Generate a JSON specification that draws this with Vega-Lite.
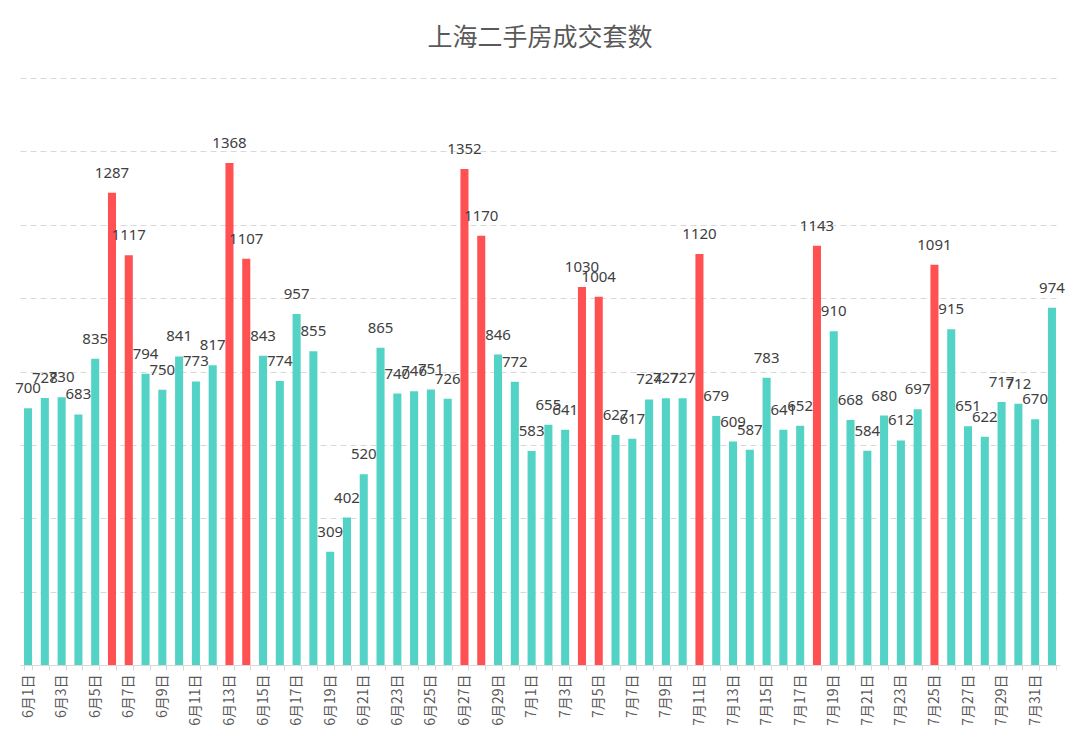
{
  "$schema": "https://vega.github.io/schema/vega-lite/v6.json",
  "width": 1040,
  "height": 587,
  "autosize": {"type": "none"},
  "padding": {"left": 20, "right": 20, "top": 78, "bottom": 77},
  "title": {
    "text": "上海二手房成交套数",
    "fontSize": 25,
    "fontWeight": "normal",
    "color": "#595959",
    "font": "Noto Sans CJK SC",
    "offset": 27,
    "anchor": "middle"
  },
  "data": {
    "values": [
      {"date": "6月1日", "count": 700}, {"date": "6月2日", "count": 728}, {"date": "6月3日", "count": 730},
      {"date": "6月4日", "count": 683}, {"date": "6月5日", "count": 835}, {"date": "6月6日", "count": 1287},
      {"date": "6月7日", "count": 1117}, {"date": "6月8日", "count": 794}, {"date": "6月9日", "count": 750},
      {"date": "6月10日", "count": 841}, {"date": "6月11日", "count": 773}, {"date": "6月12日", "count": 817},
      {"date": "6月13日", "count": 1368}, {"date": "6月14日", "count": 1107}, {"date": "6月15日", "count": 843},
      {"date": "6月16日", "count": 774}, {"date": "6月17日", "count": 957}, {"date": "6月18日", "count": 855},
      {"date": "6月19日", "count": 309}, {"date": "6月20日", "count": 402}, {"date": "6月21日", "count": 520},
      {"date": "6月22日", "count": 865}, {"date": "6月23日", "count": 740}, {"date": "6月24日", "count": 746},
      {"date": "6月25日", "count": 751}, {"date": "6月26日", "count": 726}, {"date": "6月27日", "count": 1352},
      {"date": "6月28日", "count": 1170}, {"date": "6月29日", "count": 846}, {"date": "6月30日", "count": 772},
      {"date": "7月1日", "count": 583}, {"date": "7月2日", "count": 655}, {"date": "7月3日", "count": 641},
      {"date": "7月4日", "count": 1030}, {"date": "7月5日", "count": 1004}, {"date": "7月6日", "count": 627},
      {"date": "7月7日", "count": 617}, {"date": "7月8日", "count": 724}, {"date": "7月9日", "count": 727},
      {"date": "7月10日", "count": 727}, {"date": "7月11日", "count": 1120}, {"date": "7月12日", "count": 679},
      {"date": "7月13日", "count": 609}, {"date": "7月14日", "count": 587}, {"date": "7月15日", "count": 783},
      {"date": "7月16日", "count": 641}, {"date": "7月17日", "count": 652}, {"date": "7月18日", "count": 1143},
      {"date": "7月19日", "count": 910}, {"date": "7月20日", "count": 668}, {"date": "7月21日", "count": 584},
      {"date": "7月22日", "count": 680}, {"date": "7月23日", "count": 612}, {"date": "7月24日", "count": 697},
      {"date": "7月25日", "count": 1091}, {"date": "7月26日", "count": 915}, {"date": "7月27日", "count": 651},
      {"date": "7月28日", "count": 622}, {"date": "7月29日", "count": 717}, {"date": "7月30日", "count": 712},
      {"date": "7月31日", "count": 670}, {"date": "8月1日", "count": 974}
    ]
  },
  "encoding": {
    "x": {
      "field": "date",
      "type": "nominal",
      "sort": null,
      "title": null,
      "scale": {"paddingInner": 0.52, "paddingOuter": 0.24},
      "axis": {
        "labelAngle": -90,
        "labelExpr": "test(/[13579]日$/, datum.value) && !test(/^8月/, datum.value) ? datum.value : ''",
        "labelFont": "Noto Sans CJK SC",
        "labelFontSize": 14,
        "labelColor": "#595959",
        "labelPadding": 4,
        "labelOverlap": false,
        "tickBand": "extent",
        "tickColor": "#d9d9d9",
        "tickSize": 5,
        "domainColor": "#d9d9d9",
        "grid": false
      }
    },
    "y": {
      "field": "count",
      "type": "quantitative",
      "title": null,
      "scale": {"domain": [0, 1600], "nice": false},
      "axis": {
        "values": [200, 400, 600, 800, 1000, 1200, 1400, 1600],
        "labels": false,
        "ticks": false,
        "domain": false,
        "grid": true,
        "gridColor": "#d9d9d9",
        "gridDash": [6, 4]
      }
    }
  },
  "layer": [
    {
      "mark": {"type": "bar"},
      "encoding": {
        "color": {
          "condition": {"test": "datum.count > 1000", "value": "#FF5052"},
          "value": "#52D3C6"
        }
      }
    },
    {
      "mark": {
        "type": "text",
        "baseline": "middle",
        "dy": -20,
        "fontSize": 15,
        "font": "Noto Sans",
        "color": "#404040"
      },
      "encoding": {
        "text": {"field": "count", "type": "quantitative"}
      }
    }
  ],
  "config": {
    "view": {"stroke": null}
  }
}
